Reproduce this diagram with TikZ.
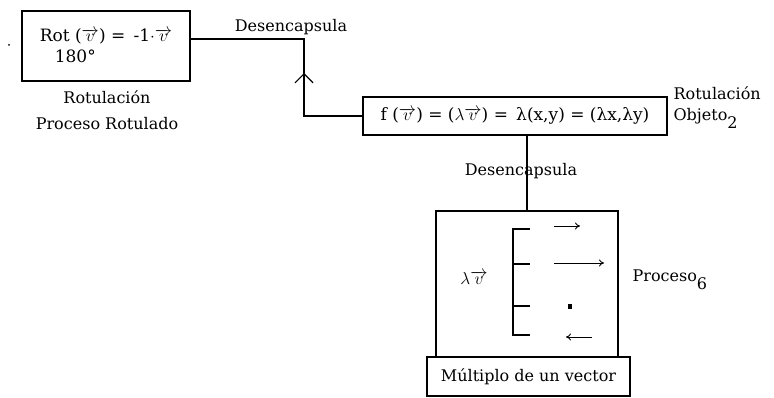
\documentclass[tikz,border=0pt]{standalone}
\usepackage{fontspec}
\setmainfont{DejaVu Serif}
\usetikzlibrary{positioning,arrows.meta}

\tikzset{
  caja/.style={draw, line width=1.3pt, inner sep=0pt},
  etiqueta/.style={inner sep=0pt},
  flechita/.style={line width=0.9pt, -{To[length=5pt,width=7pt]}}
}

\begin{document}
\begin{tikzpicture}[x=1pt, y=-1pt, line width=1.2pt, font=\fontsize{16}{19}\selectfont]
            \useasboundingbox (0,0) rectangle (774,398);
            \fill (9,45) circle (1pt);
            % rotulacion
            \node [caja, minimum width=168, minimum height=70, align=left, font=\fontsize{17}{20}\selectfont] (rot) at (106,46) {Rot ($\overrightarrow{v}$) = \,-1$\cdot\overrightarrow{v}$\\[1pt]\hspace*{15pt}180°};
            \node [etiqueta] (rotul) at (107,97) {Rotulación};
            \node [etiqueta] (procrot) at (107,124) {Proceso Rotulado};
            \node [etiqueta] (desenc1) at (291,27) {Desencapsula};
            % objeto
            \node [caja, minimum width=304, minimum height=38, font=\fontsize{17}{20}\selectfont] (f) at (515,116) {f ($\overrightarrow{v}$) = ($\lambda\overrightarrow{v}$) = \,λ(x,y) = (λx,λy)};
            \node [etiqueta, anchor=west] (rotul2) at (673,93) {Rotulación};
            \node [etiqueta, anchor=west] (objeto) at (673,118) {Objeto\raisebox{-8pt}{2}};
            \node [etiqueta] (desenc2) at (521,171) {Desencapsula};
            % proceso
            \node [caja, minimum width=182, minimum height=146] (proc) at (527,284) {};
            \node [caja, minimum width=203, minimum height=39] (mult) at (528.5,376.5) {Múltiplo de un vector};
            \node [etiqueta] (lamv) at (474,278) {$\lambda\overrightarrow{v}$};
            \node [etiqueta, anchor=west] (proceso) at (632,280) {Proceso\raisebox{-8pt}{6}};
            % conectores
            \coordinate (codo1) at (304,39);
            \coordinate (codo2) at (304,116);
            \coordinate (punta) at (304,73);
            \draw (rot.east |- codo1) -- (codo1) -- (codo2) -- (f.west);
            \draw [-{Straight Barb[length=9pt,width=18pt]}] (codo2) -- (punta);
            \draw (f.south -| proc.north) -- (proc.north);
            % llave con vectores
            \draw (530,229) -| (513,335) -- (530,335);
            \draw (513,264) -- (530,264) (513,306) -- (530,306);
            \draw [flechita] (554,226) -- (580,226);
            \draw [flechita] (554,263) -- (604,263);
            \fill (568,304) rectangle (572,309);
            \draw [flechita] (592,337) -- (566,337);
        \end{tikzpicture}
\end{document}
